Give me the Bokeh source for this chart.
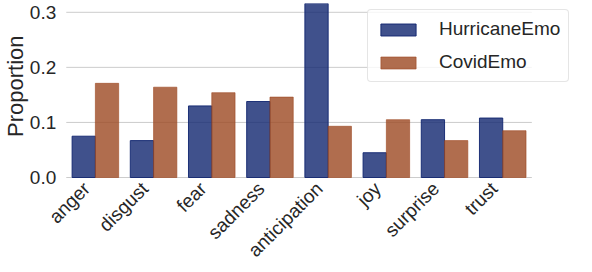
from bokeh.plotting import figure
from bokeh.models import (ColumnDataSource, Range1d, FixedTicker, LinearAxis, Title,
                          PrintfTickFormatter, Legend, LegendItem)
from bokeh.transform import dodge
from bokeh.embed import file_html
from bokeh.resources import INLINE
import math

categories = ["anger", "disgust", "fear", "sadness", "anticipation", "joy", "surprise", "trust"]
hurricane_emo = [0.075, 0.067, 0.130, 0.138, 0.320, 0.045, 0.105, 0.108]
covid_emo = [0.171, 0.164, 0.154, 0.146, 0.093, 0.105, 0.067, 0.085]
y_ticks = [0.0, 0.1, 0.2, 0.3]

FONT = "Liberation Sans"
TXT = "#262626"
GRID = "#cccccc"

n = len(categories)
idx = list(range(n))
source = ColumnDataSource(data=dict(idx=idx, cat=categories, hurr=hurricane_emo, covid=covid_emo))

# ---- layout (pixels) ----
W, H = 584, 264
title_w = 26          # width taken by the y title panel (frame starts here)
cat_px = 58.3         # pixels per category
cat0_px = 94          # pixel centre of the first category
top_px, zero_px = 3, 177
y_hi = 0.316

x_lo = -(cat0_px - title_w) / cat_px
x_hi = (W - cat0_px) / cat_px
per_px = y_hi / (zero_px - top_px)
y_lo = -(H - zero_px) * per_px
shift = 0.15  # moves the rotated labels so that they end at their tick

p = figure(x_range=Range1d(x_lo, x_hi), y_range=Range1d(y_lo, y_hi),
           width=W, height=H, output_backend="svg", toolbar_location=None,
           x_axis_location=None,
           min_border_left=0, min_border_right=0, min_border_top=top_px, min_border_bottom=0)
p.extra_x_ranges = {"lab": Range1d(x_lo + shift, x_hi + shift)}

# grid lines and baseline, only across the categories
p.segment(x0=[-0.5] * len(y_ticks), x1=[n - 0.5] * len(y_ticks), y0=y_ticks, y1=y_ticks,
          line_color=GRID, line_width=1)

r1 = p.vbar(x=dodge("idx", -0.2), top="hurr", width=0.4, source=source,
            fill_color="#10256f", fill_alpha=0.8, line_color="#10256f", line_alpha=0.9, line_width=1)
r2 = p.vbar(x=dodge("idx", 0.2), top="covid", width=0.4, source=source,
            fill_color="#9c4822", fill_alpha=0.8, line_color="#9c4822", line_alpha=0.6, line_width=1)

p.outline_line_color = None
p.xgrid.grid_line_color = None
p.ygrid.grid_line_color = None
p.background_fill_color = "white"

xaxis = LinearAxis(x_range_name="lab", ticker=FixedTicker(ticks=idx),
                   major_label_overrides={i: c for i, c in zip(idx, categories)},
                   fixed_location=0)
p.add_layout(xaxis, "below")

yaxis = p.yaxis[0]
yaxis.fixed_location = -0.5
yaxis.ticker = FixedTicker(ticks=y_ticks)
yaxis.formatter = PrintfTickFormatter(format="%.1f")
yaxis.axis_line_color = None
yaxis.major_label_standoff = 10
yaxis.major_label_text_font_size = "19px"

for ax in (xaxis, yaxis):
    ax.major_tick_line_color = None
    ax.minor_tick_line_color = None
    ax.major_tick_out = 0
    ax.major_tick_in = 0
    ax.minor_tick_out = 0
    ax.minor_tick_in = 0
    ax.major_label_text_font = FONT
    ax.major_label_text_color = TXT

xaxis.axis_line_color = None
xaxis.major_label_text_font_size = "19px"
xaxis.major_label_orientation = math.pi / 4
xaxis.major_label_standoff = 8

# y axis title: its upper end sits 32px below the frame top
ytitle = Title(text="Proportion", align="right", offset=32,
               text_font=FONT, text_font_size="22px", text_font_style="normal",
               text_color=TXT)
if "standoff" in Title.properties():
    ytitle.standoff = 0
p.add_layout(ytitle, "left")

legend = Legend(items=[LegendItem(label="HurricaneEmo", renderers=[r1]),
                       LegendItem(label="CovidEmo", renderers=[r2])],
                location=(366 - title_w, H - 82))
legend.label_text_font = FONT
legend.label_text_font_size = "19px"
legend.label_text_color = TXT
legend.glyph_width = 44
legend.glyph_height = 15
legend.label_standoff = 19
legend.spacing = 11
legend.padding = 8
legend.margin = 0
legend.border_line_color = GRID
legend.border_line_width = 1
legend.background_fill_color = "white"
legend.background_fill_alpha = 0.8
if "border_radius" in Legend.properties():
    legend.border_radius = 4
p.add_layout(legend, "center")

open("out.html", "w").write(file_html(p, INLINE))
